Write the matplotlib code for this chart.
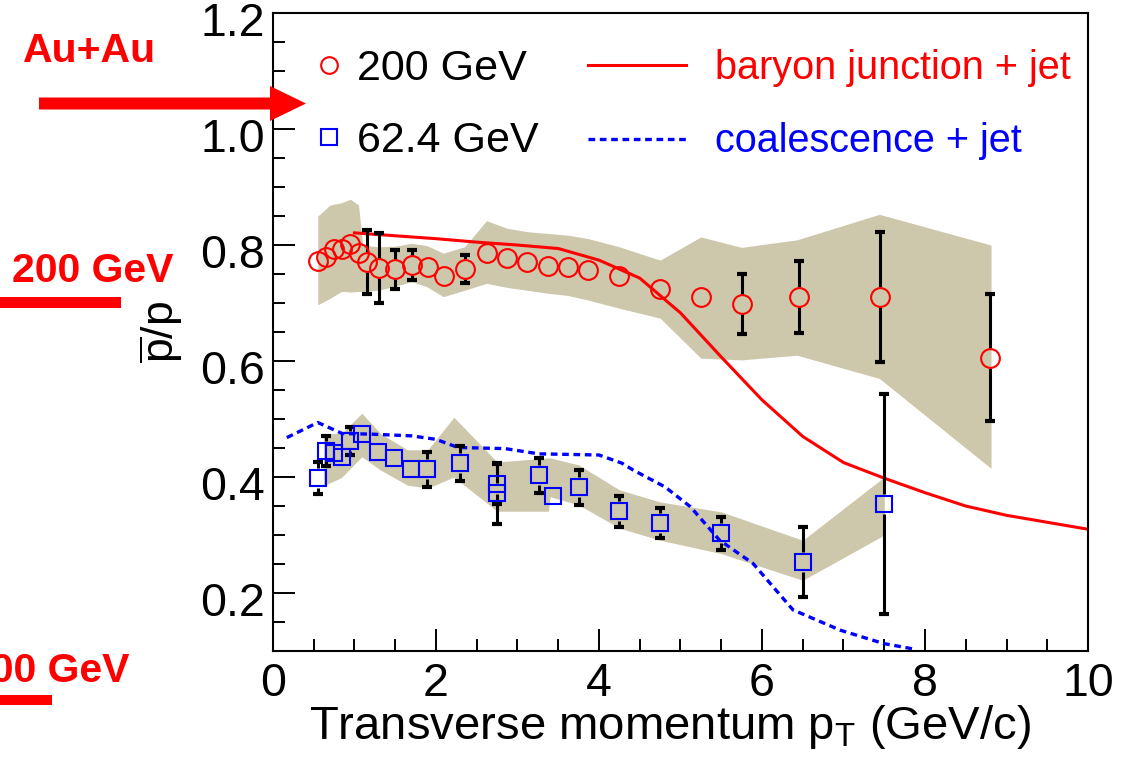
import matplotlib
matplotlib.use('Agg')
import matplotlib.pyplot as plt
import matplotlib.transforms as mtransforms
from matplotlib.patches import FancyArrow, Rectangle
from matplotlib.ticker import MultipleLocator
import numpy as np

plt.rcParams['font.family'] = ['Liberation Sans', 'DejaVu Sans']
plt.rcParams['mathtext.fontset'] = 'custom'
plt.rcParams['mathtext.rm'] = 'Liberation Sans'
plt.rcParams['mathtext.it'] = 'Liberation Sans:italic'
plt.rcParams['mathtext.bf'] = 'Liberation Sans:bold'

# Au+Au 200 GeV: pbar/p vs pT
pt_200 = [0.55, 0.65, 0.75, 0.85, 0.95, 1.05, 1.15, 1.30, 1.50, 1.70, 1.90, 2.10, 2.35,
          2.62, 2.87, 3.12, 3.37, 3.62, 3.87, 4.25, 4.75, 5.25, 5.75, 6.45, 7.45, 8.80]
ratio_200 = [0.772, 0.780, 0.794, 0.793, 0.802, 0.787, 0.771, 0.760, 0.758, 0.766, 0.762, 0.747, 0.758,
             0.787, 0.777, 0.770, 0.764, 0.763, 0.757, 0.747, 0.724, 0.710, 0.698, 0.710, 0.711, 0.606]
stat_200 = [0.010, 0.010, 0.010, 0.010, 0.010, 0.010, 0.055, 0.060, 0.034, 0.026, 0.010, 0.010, 0.024,
            0.010, 0.010, 0.010, 0.010, 0.010, 0.010, 0.010, 0.010, 0.010, 0.052, 0.062, 0.112, 0.110]

# pasmo systematyczne 200 GeV
band_pt_200 = [0.55, 0.70, 0.84, 0.95, 1.05, 1.10, 1.29, 1.50, 1.70, 1.89, 2.09, 2.35, 2.62,
               2.87, 3.12, 3.37, 3.62, 3.87, 4.25, 4.75, 5.25, 5.75, 6.43, 7.44, 8.81]
band_hi_200 = [0.850, 0.869, 0.873, 0.879, 0.869, 0.800, 0.797, 0.798, 0.803, 0.799, 0.786, 0.797, 0.842,
               0.829, 0.823, 0.820, 0.817, 0.811, 0.797, 0.774, 0.814, 0.796, 0.809, 0.853, 0.800]
band_lo_200 = [0.697, 0.708, 0.720, 0.719, 0.720, 0.720, 0.722, 0.729, 0.737, 0.728, 0.711, 0.722, 0.734,
               0.727, 0.722, 0.717, 0.713, 0.705, 0.691, 0.674, 0.605, 0.602, 0.610, 0.570, 0.415]

# Au+Au 62.4 GeV
pt_62 = [0.55, 0.65, 0.75, 0.85, 0.95, 1.09, 1.29, 1.49, 1.69, 1.89, 2.30, 2.75, 2.75,
         3.26, 3.44, 3.75, 4.25, 4.75, 5.50, 6.50, 7.50]
ratio_62 = [0.398, 0.445, 0.441, 0.434, 0.462, 0.474, 0.443, 0.432, 0.413, 0.413, 0.424, 0.388, 0.372,
            0.403, 0.368, 0.382, 0.341, 0.321, 0.303, 0.253, 0.353]
stat_62 = [0.028, 0.026, 0.012, 0.012, 0.024, 0.012, 0.012, 0.012, 0.012, 0.030, 0.030, 0.035, 0.053,
           0.030, 0.012, 0.030, 0.027, 0.026, 0.028, 0.060, 0.190]

band_pt_62 = [0.62, 0.84, 1.09, 1.32, 1.65, 1.90, 2.22, 2.75, 3.38, 3.40, 3.75, 4.25, 4.75, 5.50, 6.50, 7.50]
band_hi_62 = [0.475, 0.475, 0.510, 0.475, 0.447, 0.447, 0.503, 0.426, 0.433, 0.433, 0.421, 0.378, 0.357,
              0.340, 0.291, 0.400]
band_lo_62 = [0.385, 0.399, 0.435, 0.412, 0.386, 0.381, 0.400, 0.341, 0.341, 0.366, 0.352, 0.312, 0.291,
              0.268, 0.222, 0.300]

# modele
bj_pt = [1.0, 1.5, 2.0, 2.5, 3.0, 3.5, 4.0, 4.5, 5.0, 5.5, 6.0, 6.5, 7.0, 7.5, 8.0, 8.5, 9.0, 9.5, 10.0]
bj_ratio = [0.821, 0.816, 0.811, 0.805, 0.800, 0.794, 0.774, 0.743, 0.683, 0.607, 0.533, 0.470, 0.425,
            0.398, 0.373, 0.350, 0.334, 0.322, 0.310]
coal_pt = [0.17, 0.55, 0.85, 1.2, 1.7, 2.0, 2.27, 2.85, 3.26, 4.0, 4.28, 4.42, 4.81, 5.12, 5.48, 5.89,
           6.38, 6.96, 7.49, 7.88]
coal_ratio = [0.468, 0.494, 0.475, 0.474, 0.471, 0.465, 0.451, 0.449, 0.440, 0.438, 0.424, 0.412, 0.383,
              0.349, 0.291, 0.251, 0.171, 0.136, 0.113, 0.103]

kolor_pasma = '#cdc7ac'

fig = plt.figure(figsize=(11.35, 7.68), dpi=100)
ax = fig.add_axes([0.2405, 0.1523, 0.7181, 0.8307])
ax.set_xlim(0, 10)
ax.set_ylim(0.1, 1.2)

ax.fill_between(band_pt_200, band_lo_200, band_hi_200, color=kolor_pasma, lw=0, zorder=1)
ax.fill_between(band_pt_62, band_lo_62, band_hi_62, color=kolor_pasma, lw=0, zorder=1)

linia_bj, = ax.plot(bj_pt, bj_ratio, color='red', lw=2.2, zorder=2)
linia_coal, = ax.plot(coal_pt, coal_ratio, color='blue', lw=2.4, ls=(0, (2.0, 1.4)), zorder=2)

# odstep bledu wewnatrz markera (ok. 10 px)
gap = 10 * (1.2 - 0.1) / (0.8307 * 768)


def rysuj_bledy(x, y, err):
    x = np.array(x)
    y = np.array(y)
    err = np.array(err)
    w = err > gap
    ax.vlines(x[w], y[w] + gap, y[w] + err[w], color='black', lw=2.2, zorder=3)
    ax.vlines(x[w], y[w] - err[w], y[w] - gap, color='black', lw=2.2, zorder=3)
    ax.plot(x[w], y[w] + err[w], ls='none', marker='_', ms=7.5, mew=3, color='black', zorder=3)
    ax.plot(x[w], y[w] - err[w], ls='none', marker='_', ms=7.5, mew=3, color='black', zorder=3)


rysuj_bledy(pt_200, ratio_200, stat_200)
rysuj_bledy(pt_62, ratio_62, stat_62)

pkt_200, = ax.plot(pt_200, ratio_200, ls='none', marker='o', ms=13.5, mfc='none', mec='red',
                   mew=1.5, zorder=4)
pkt_62, = ax.plot(pt_62, ratio_62, ls='none', marker='s', ms=12, mfc='none', mec='blue',
                  mew=1.5, zorder=4)

ax.xaxis.set_major_locator(MultipleLocator(2))
ax.xaxis.set_minor_locator(MultipleLocator(0.5))
ax.yaxis.set_major_locator(MultipleLocator(0.2))
ax.yaxis.set_minor_locator(MultipleLocator(0.05))
ax.tick_params(which='both', direction='in', top=False, right=False, width=1.4, labelsize=33.5)
ax.tick_params(which='major', length=16)
ax.tick_params(which='minor', length=8.5)
ax.tick_params(axis='x', pad=8)
ax.tick_params(axis='y', pad=6)
ax.set_yticks([0.2, 0.4, 0.6, 0.8, 1.0, 1.2])
ax.set_yticklabels(['0.2', '0.4', '0.6', '0.8', '1.0', '1.2'])
ax.set_xticks([0, 2, 4, 6, 8, 10])
# opisy osi y troche nizej niz kreska
przesuniecie = mtransforms.ScaledTranslation(0, -4 / 72, fig.dpi_scale_trans)
for lbl in ax.get_yticklabels():
    lbl.set_transform(lbl.get_transform() + przesuniecie)
for s in ax.spines.values():
    s.set_linewidth(1.5)

ax.set_xlabel(r'Transverse momentum p$_{\mathrm{T}}$ (GeV/c)', fontsize=34)
ax.set_ylabel(r'$\overline{\mathrm{p}}/\mathrm{p}$', fontsize=32)
ax.xaxis.set_label_coords(0.487, -0.082)
ax.yaxis.set_label_coords(-0.108, 0.5)

leg1 = ax.legend([pkt_200, pkt_62], ['200 GeV', '62.4 GeV'], loc='upper left',
                 bbox_to_anchor=(0.0534, 0.944), frameon=False, fontsize=31, borderpad=0,
                 borderaxespad=0, handlelength=0.6, handletextpad=0.33, labelspacing=0.75,
                 markerscale=1.0)
for h in leg1.legend_handles:
    h.set_markersize(12)
ax.add_artist(leg1)
leg2 = ax.legend([linia_bj, linia_coal], ['baryon junction + jet', 'coalescence + jet'],
                 loc='upper left', bbox_to_anchor=(0.3865, 0.944), frameon=False, fontsize=28.5,
                 borderpad=0, borderaxespad=0, handlelength=2.48, handletextpad=0.72,
                 labelspacing=0.9)
for t, c in zip(leg2.get_texts(), ['red', 'blue']):
    t.set_color(c)

# dopiski na lewym marginesie
tr = fig.dpi_scale_trans
fig.text(0.23, 7.06, 'Au+Au', transform=tr, color='red', fontsize=29.5, fontweight='bold',
         va='baseline')
fig.add_artist(FancyArrow(0.39, 6.645, 2.67, 0, width=0.12, head_width=0.35, head_length=0.36,
                          length_includes_head=True, color='red', lw=0, transform=tr))
fig.text(0.12, 4.863, '200 GeV', transform=tr, color='red', fontsize=29.5, fontweight='bold',
         va='baseline')
fig.add_artist(Rectangle((0, 4.60), 1.21, 0.11, color='red', lw=0, transform=tr))
fig.text(1.30, 0.86, '200 GeV', transform=tr, color='red', fontsize=29.5, fontweight='bold',
         va='baseline', ha='right')
fig.add_artist(Rectangle((0, 0.63), 0.52, 0.10, color='red', lw=0, transform=tr))

fig.savefig('out.png', dpi=100)
